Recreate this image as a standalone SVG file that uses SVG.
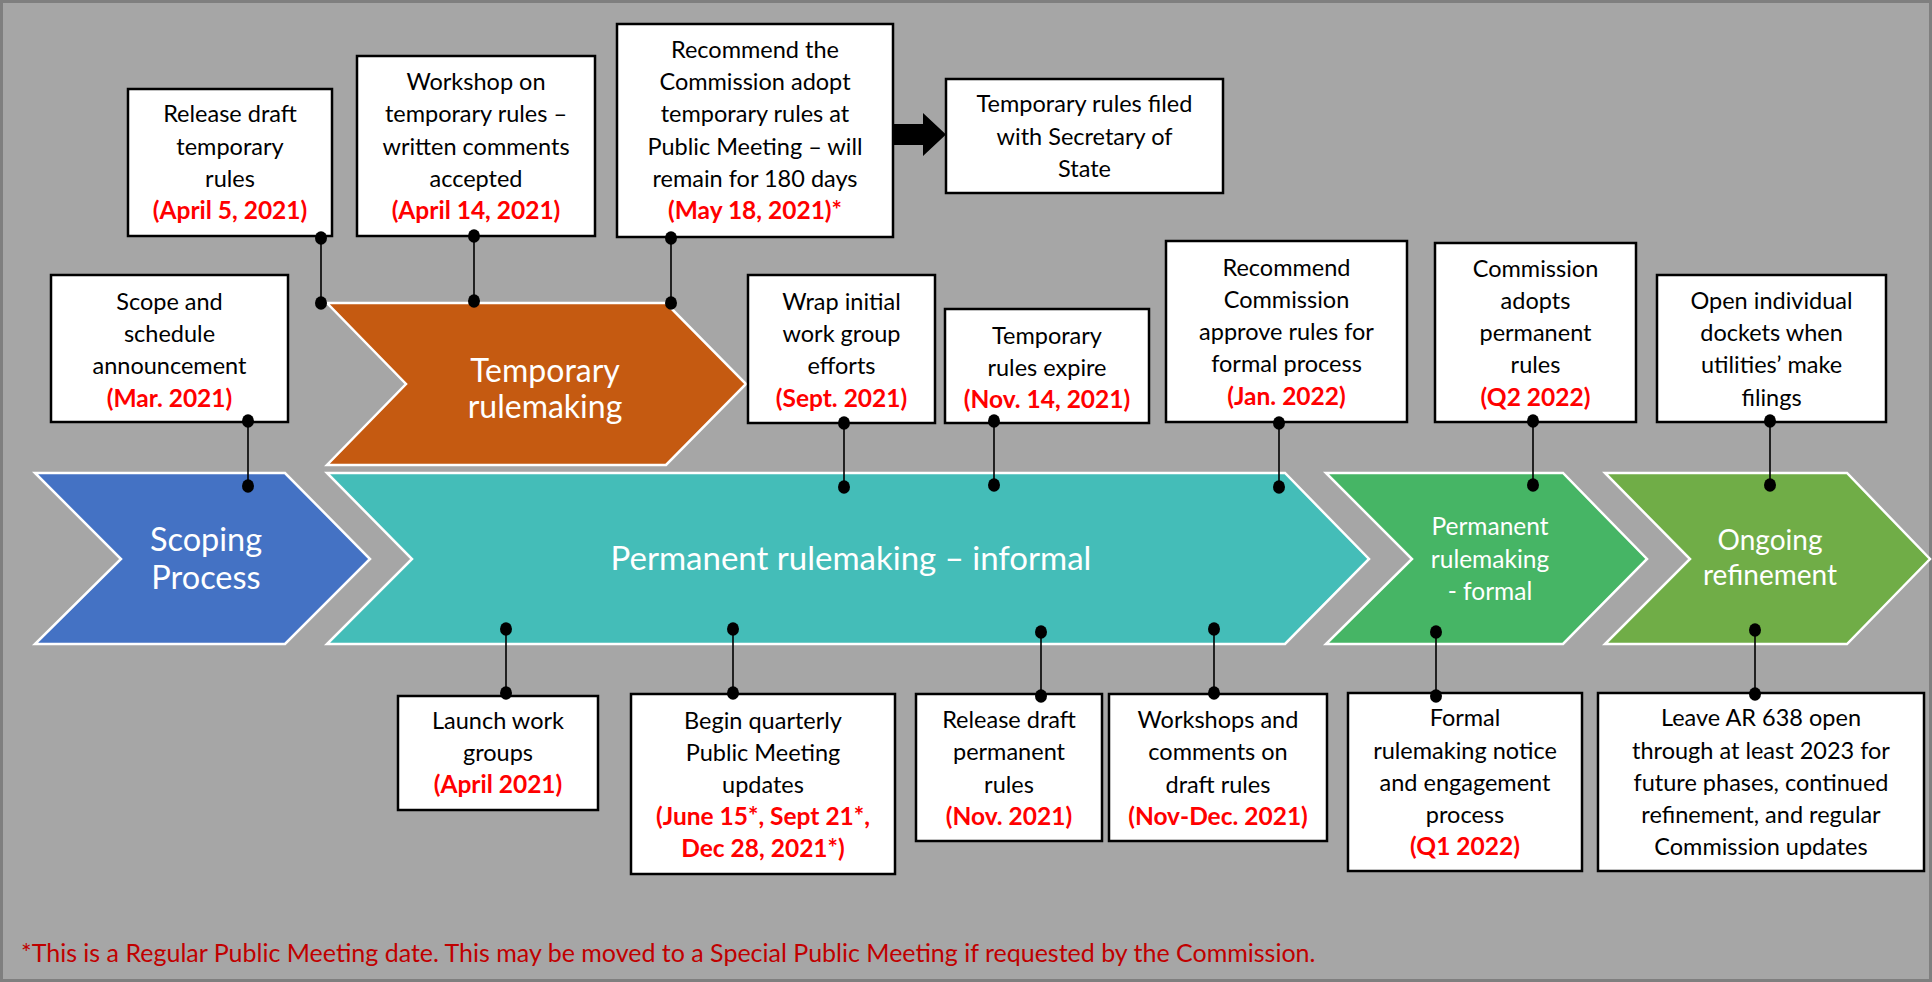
<svg xmlns="http://www.w3.org/2000/svg" width="1932" height="982" viewBox="0 0 1932 982">
<style>
.bg{fill:#A6A6A6;stroke:#7F7F7F;stroke-width:3}
.chev{stroke:#FFFFFF;stroke-width:2.5}
.box{fill:#FFFFFF;stroke:#000000;stroke-width:2.5}
.t{font-family:Lato,"Liberation Sans",sans-serif;font-size:23.5px;fill:#000000;text-anchor:middle}
.d{font-family:Lato,"Liberation Sans",sans-serif;font-size:24.5px;font-weight:bold;fill:#FF0000;text-anchor:middle}
.cl{font-family:Lato,"Liberation Sans",sans-serif;fill:#FFFFFF;text-anchor:middle}
.conn line{stroke:#000000;stroke-width:1.6}
.conn ellipse{fill:#000000}
.note{font-family:Lato,"Liberation Sans",sans-serif;font-size:25px;fill:#C00000}
</style>
<rect class="bg" x="1.5" y="1.5" width="1929" height="979"/>

<g id="chev-scoping">
<polygon class="chev" fill="#4472C4" points="35,473 285,473 370,559 285,644 35,644 121,559"/>
<text class="cl" font-size="32.5" x="206" y="551">Scoping</text>
<text class="cl" font-size="32.5" x="206" y="589">Process</text>
</g>
<g id="chev-temporary">
<polygon class="chev" fill="#C55A11" points="327,303 666,303 746,384 666,465 327,465 406,384"/>
<text class="cl" font-size="32" x="545" y="382">Temporary</text>
<text class="cl" font-size="32" x="545" y="418">rulemaking</text>
</g>
<g id="chev-informal">
<polygon class="chev" fill="#44BDB8" points="327,473 1285,473 1369,559 1285,644 327,644 412,559"/>
<text class="cl" font-size="33" x="851" y="570">Permanent rulemaking – informal</text>
</g>
<g id="chev-formal">
<polygon class="chev" fill="#46B565" points="1326,473 1563,473 1647,559 1563,644 1326,644 1412,559"/>
<text class="cl" font-size="24.5" x="1490" y="535">Permanent</text>
<text class="cl" font-size="24.5" x="1490" y="568">rulemaking</text>
<text class="cl" font-size="24.5" x="1490" y="600">- formal</text>
</g>
<g id="chev-ongoing">
<polygon class="chev" fill="#70AD47" points="1605,473 1847,473 1930,559 1847,644 1605,644 1690,559"/>
<text class="cl" font-size="28" x="1770" y="550">Ongoing</text>
<text class="cl" font-size="28" x="1770" y="585">refinement</text>
</g>

<g id="box-release-temp">
<rect class="box" x="128" y="89" width="204" height="147"/>
<text class="t" x="230" y="122">Release draft</text>
<text class="t" x="230" y="154.5">temporary</text>
<text class="t" x="230" y="187">rules</text>
<text class="d" x="230" y="219">(April 5, 2021)</text>
</g>
<g id="box-workshop-temp">
<rect class="box" x="357" y="56" width="238" height="180"/>
<text class="t" x="476" y="90">Workshop on</text>
<text class="t" x="476" y="122">temporary rules –</text>
<text class="t" x="476" y="154.5">written comments</text>
<text class="t" x="476" y="187">accepted</text>
<text class="d" x="476" y="219">(April 14, 2021)</text>
</g>
<g id="box-recommend-temp">
<rect class="box" x="617" y="24" width="276" height="213"/>
<text class="t" x="755" y="57.5">Recommend the</text>
<text class="t" x="755" y="90">Commission adopt</text>
<text class="t" x="755" y="122">temporary rules at</text>
<text class="t" x="755" y="154.5">Public Meeting – will</text>
<text class="t" x="755" y="187">remain for 180 days</text>
<text class="d" x="755" y="219">(May 18, 2021)*</text>
</g>
<g id="box-filed">
<rect class="box" x="946" y="79" width="277" height="114"/>
<text class="t" x="1084.5" y="112">Temporary rules filed</text>
<text class="t" x="1084.5" y="145">with Secretary of</text>
<text class="t" x="1084.5" y="177">State</text>
</g>
<g id="box-scope">
<rect class="box" x="51" y="275" width="237" height="147"/>
<text class="t" x="169.5" y="309.5">Scope and</text>
<text class="t" x="169.5" y="342">schedule</text>
<text class="t" x="169.5" y="374">announcement</text>
<text class="d" x="169.5" y="406.5">(Mar. 2021)</text>
</g>
<g id="box-wrap">
<rect class="box" x="748" y="275" width="187" height="148"/>
<text class="t" x="841.5" y="309.5">Wrap initial</text>
<text class="t" x="841.5" y="342">work group</text>
<text class="t" x="841.5" y="374">efforts</text>
<text class="d" x="841.5" y="406.5">(Sept. 2021)</text>
</g>
<g id="box-expire">
<rect class="box" x="945" y="309" width="204" height="114"/>
<text class="t" x="1047" y="343.5">Temporary</text>
<text class="t" x="1047" y="375.5">rules expire</text>
<text class="d" x="1047" y="407.5">(Nov. 14, 2021)</text>
</g>
<g id="box-approve">
<rect class="box" x="1166" y="241" width="241" height="181"/>
<text class="t" x="1286.5" y="275.5">Recommend</text>
<text class="t" x="1286.5" y="307.5">Commission</text>
<text class="t" x="1286.5" y="340">approve rules for</text>
<text class="t" x="1286.5" y="372">formal process</text>
<text class="d" x="1286.5" y="404.5">(Jan. 2022)</text>
</g>
<g id="box-adopts">
<rect class="box" x="1435" y="243" width="201" height="179"/>
<text class="t" x="1535.5" y="276.5">Commission</text>
<text class="t" x="1535.5" y="308.5">adopts</text>
<text class="t" x="1535.5" y="340.5">permanent</text>
<text class="t" x="1535.5" y="372.5">rules</text>
<text class="d" x="1535.5" y="405.5">(Q2 2022)</text>
</g>
<g id="box-dockets">
<rect class="box" x="1657" y="275" width="229" height="147"/>
<text class="t" x="1771.5" y="308.5">Open individual</text>
<text class="t" x="1771.5" y="340.5">dockets when</text>
<text class="t" x="1771.5" y="372.5">utilities’ make</text>
<text class="t" x="1771.5" y="405.5">filings</text>
</g>
<g id="box-launch">
<rect class="box" x="398" y="696" width="200" height="114"/>
<text class="t" x="498" y="728.5">Launch work</text>
<text class="t" x="498" y="760.5">groups</text>
<text class="d" x="498" y="792.5">(April 2021)</text>
</g>
<g id="box-quarterly">
<rect class="box" x="631" y="694" width="264" height="180"/>
<text class="t" x="763" y="728.5">Begin quarterly</text>
<text class="t" x="763" y="760.5">Public Meeting</text>
<text class="t" x="763" y="792.5">updates</text>
<text class="d" x="763" y="824.5">(June 15*, Sept 21*,</text>
<text class="d" x="763" y="856.5">Dec 28, 2021*)</text>
</g>
<g id="box-release-perm">
<rect class="box" x="916" y="694" width="186" height="147"/>
<text class="t" x="1009" y="727.5">Release draft</text>
<text class="t" x="1009" y="759.5">permanent</text>
<text class="t" x="1009" y="792.5">rules</text>
<text class="d" x="1009" y="824.5">(Nov. 2021)</text>
</g>
<g id="box-workshops-perm">
<rect class="box" x="1109" y="694" width="218" height="147"/>
<text class="t" x="1218" y="727.5">Workshops and</text>
<text class="t" x="1218" y="759.5">comments on</text>
<text class="t" x="1218" y="792.5">draft rules</text>
<text class="d" x="1218" y="824.5">(Nov-Dec. 2021)</text>
</g>
<g id="box-formal">
<rect class="box" x="1348" y="693" width="234" height="178"/>
<text class="t" x="1465" y="725.5">Formal</text>
<text class="t" x="1465" y="758.5">rulemaking notice</text>
<text class="t" x="1465" y="790.5">and engagement</text>
<text class="t" x="1465" y="822.5">process</text>
<text class="d" x="1465" y="854.5">(Q1 2022)</text>
</g>
<g id="box-leave">
<rect class="box" x="1598" y="693" width="326" height="178"/>
<text class="t" x="1761" y="725.5">Leave AR 638 open</text>
<text class="t" x="1761" y="758.5">through at least 2023 for</text>
<text class="t" x="1761" y="790.5">future phases, continued</text>
<text class="t" x="1761" y="822.5">refinement, and regular</text>
<text class="t" x="1761" y="854.5">Commission updates</text>
</g>

<g id="connectors" class="conn">
<polygon fill="#000000" points="893,124 923,124 923,113 946,134.5 923,156 923,145 893,145"/>
<line x1="321" y1="238" x2="321" y2="303"/><ellipse cx="321" cy="238" rx="6" ry="6.8"/><ellipse cx="321" cy="303" rx="6" ry="6.8"/>
<line x1="474" y1="236" x2="474" y2="301"/><ellipse cx="474" cy="236" rx="6" ry="6.8"/><ellipse cx="474" cy="301" rx="6" ry="6.8"/>
<line x1="671" y1="238" x2="671" y2="303"/><ellipse cx="671" cy="238" rx="6" ry="6.8"/><ellipse cx="671" cy="303" rx="6" ry="6.8"/>
<line x1="248" y1="421" x2="248" y2="486"/><ellipse cx="248" cy="421" rx="6" ry="6.8"/><ellipse cx="248" cy="486" rx="6" ry="6.8"/>
<line x1="844" y1="423" x2="844" y2="487"/><ellipse cx="844" cy="423" rx="6" ry="6.8"/><ellipse cx="844" cy="487" rx="6" ry="6.8"/>
<line x1="994" y1="421" x2="994" y2="485"/><ellipse cx="994" cy="421" rx="6" ry="6.8"/><ellipse cx="994" cy="485" rx="6" ry="6.8"/>
<line x1="1279" y1="423" x2="1279" y2="487"/><ellipse cx="1279" cy="423" rx="6" ry="6.8"/><ellipse cx="1279" cy="487" rx="6" ry="6.8"/>
<line x1="1533" y1="421" x2="1533" y2="485"/><ellipse cx="1533" cy="421" rx="6" ry="6.8"/><ellipse cx="1533" cy="485" rx="6" ry="6.8"/>
<line x1="1770" y1="421" x2="1770" y2="485"/><ellipse cx="1770" cy="421" rx="6" ry="6.8"/><ellipse cx="1770" cy="485" rx="6" ry="6.8"/>
<line x1="506" y1="629" x2="506" y2="693"/><ellipse cx="506" cy="629" rx="6" ry="6.8"/><ellipse cx="506" cy="693" rx="6" ry="6.8"/>
<line x1="733" y1="629" x2="733" y2="693"/><ellipse cx="733" cy="629" rx="6" ry="6.8"/><ellipse cx="733" cy="693" rx="6" ry="6.8"/>
<line x1="1041" y1="632" x2="1041" y2="696"/><ellipse cx="1041" cy="632" rx="6" ry="6.8"/><ellipse cx="1041" cy="696" rx="6" ry="6.8"/>
<line x1="1214" y1="629" x2="1214" y2="693"/><ellipse cx="1214" cy="629" rx="6" ry="6.8"/><ellipse cx="1214" cy="693" rx="6" ry="6.8"/>
<line x1="1436" y1="632" x2="1436" y2="696"/><ellipse cx="1436" cy="632" rx="6" ry="6.8"/><ellipse cx="1436" cy="696" rx="6" ry="6.8"/>
<line x1="1755" y1="630" x2="1755" y2="694"/><ellipse cx="1755" cy="630" rx="6" ry="6.8"/><ellipse cx="1755" cy="694" rx="6" ry="6.8"/>
</g>

<text class="note" x="21" y="962">*This is a Regular Public Meeting date. This may be moved to a Special Public Meeting if requested by the Commission.</text>
</svg>
